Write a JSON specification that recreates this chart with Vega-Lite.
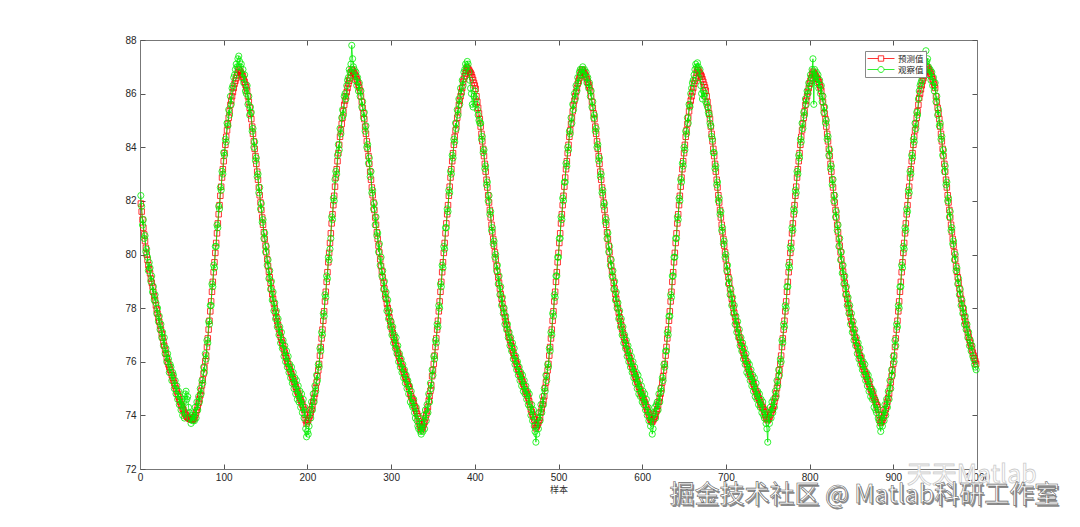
{
"$schema": "https://vega.github.io/schema/vega-lite/v6.json",
"width": 837,
"height": 429,
"autosize": {"type": "none"},
"padding": {"left": 140, "top": 40, "right": 103, "bottom": 58},
"background": "white",
"config": {"view": {"stroke": null}, "axis": {"grid": false}},
"datasets": {"d": [
{"x":1,"p":81.9,"o":82.2},{"x":2,"p":81.6,"o":81.8},{"x":3,"p":81.3,"o":81.1},{"x":4,"p":81.0,"o":81.3},{"x":5,"p":80.75,"o":80.6},{"x":6,"p":80.5,"o":80.7},{"x":7,"p":80.25,"o":80.1},{"x":8,"p":80.0,"o":80.2},{"x":9,"p":79.8,"o":79.9},{"x":10,"p":79.6,"o":79.4},
{"x":11,"p":79.45,"o":79.7},{"x":12,"p":79.3,"o":79.5},{"x":13,"p":79.1,"o":79.0},{"x":14,"p":78.95,"o":79.2},{"x":15,"p":78.8,"o":78.6},{"x":16,"p":78.6,"o":78.8},{"x":17,"p":78.45,"o":78.3},{"x":18,"p":78.3,"o":78.5},{"x":19,"p":78.1,"o":78.2},{"x":20,"p":77.95,"o":77.8},
{"x":21,"p":77.8,"o":78.0},{"x":22,"p":77.65,"o":77.5},{"x":23,"p":77.5,"o":77.7},{"x":24,"p":77.35,"o":77.2},{"x":25,"p":77.2,"o":77.4},{"x":26,"p":77.05,"o":76.9},{"x":27,"p":76.9,"o":77.1},{"x":28,"p":76.75,"o":76.6},{"x":29,"p":76.6,"o":76.9},{"x":30,"p":76.45,"o":76.3},
{"x":31,"p":76.3,"o":76.5},{"x":32,"p":76.15,"o":76.0},{"x":33,"p":76.0,"o":76.3},{"x":34,"p":75.9,"o":76.1},{"x":35,"p":75.8,"o":75.6},{"x":36,"p":75.7,"o":75.9},{"x":37,"p":75.6,"o":75.8},{"x":38,"p":75.5,"o":75.3},{"x":39,"p":75.4,"o":75.6},{"x":40,"p":75.3,"o":75.5},
{"x":41,"p":75.2,"o":75.0},{"x":42,"p":75.1,"o":75.3},{"x":43,"p":75.0,"o":74.8},{"x":44,"p":74.9,"o":75.1},{"x":45,"p":74.8,"o":74.6},{"x":46,"p":74.7,"o":74.9},{"x":47,"p":74.6,"o":74.4},{"x":48,"p":74.5,"o":74.7},{"x":49,"p":74.4,"o":74.2},{"x":50,"p":74.35,"o":74.6},
{"x":51,"p":74.25,"o":74.0},{"x":52,"p":74.2,"o":74.5},{"x":53,"p":74.1,"o":73.9},{"x":54,"p":74.05,"o":74.8},{"x":55,"p":74.0,"o":74.9},{"x":56,"p":73.95,"o":74.6},{"x":57,"p":73.92,"o":74.7},{"x":58,"p":73.9,"o":74.3},{"x":59,"p":73.88,"o":74.1},{"x":60,"p":73.86,"o":73.9},
{"x":61,"p":73.85,"o":73.7},{"x":62,"p":73.85,"o":74.0},{"x":63,"p":73.84,"o":73.8},{"x":64,"p":73.87,"o":74.1},{"x":65,"p":73.93,"o":73.8},{"x":66,"p":74.01,"o":74.3},{"x":67,"p":74.1,"o":73.9},{"x":68,"p":74.2,"o":74.5},{"x":69,"p":74.33,"o":74.2},{"x":70,"p":74.46,"o":74.7},
{"x":71,"p":74.61,"o":74.5},{"x":72,"p":74.75,"o":75.0},{"x":73,"p":74.91,"o":74.8},{"x":74,"p":75.12,"o":75.3},{"x":75,"p":75.33,"o":75.2},{"x":76,"p":75.56,"o":75.8},{"x":77,"p":75.78,"o":75.6},{"x":78,"p":76.02,"o":76.3},{"x":79,"p":76.23,"o":76.1},{"x":80,"p":76.55,"o":76.8},
{"x":81,"p":76.87,"o":76.7},{"x":82,"p":77.2,"o":77.5},{"x":83,"p":77.53,"o":77.4},{"x":84,"p":77.88,"o":78.1},{"x":85,"p":78.25,"o":78.1},{"x":86,"p":78.61,"o":78.9},{"x":87,"p":78.98,"o":78.8},{"x":88,"p":79.34,"o":79.6},{"x":89,"p":79.71,"o":79.5},{"x":90,"p":80.06,"o":80.3},
{"x":91,"p":80.43,"o":80.3},{"x":92,"p":80.79,"o":81.1},{"x":93,"p":81.16,"o":81.0},{"x":94,"p":81.5,"o":81.8},{"x":95,"p":81.84,"o":81.7},{"x":96,"p":82.19,"o":82.5},{"x":97,"p":82.53,"o":82.4},{"x":98,"p":82.87,"o":83.1},{"x":99,"p":83.18,"o":83.0},{"x":100,"p":83.48,"o":83.8},
{"x":101,"p":83.78,"o":83.7},{"x":102,"p":84.09,"o":84.3},{"x":103,"p":84.39,"o":84.2},{"x":104,"p":84.63,"o":84.9},{"x":105,"p":84.87,"o":84.8},{"x":106,"p":85.1,"o":85.4},{"x":107,"p":85.34,"o":85.2},{"x":108,"p":85.58,"o":85.9},{"x":109,"p":85.74,"o":85.6},{"x":110,"p":85.9,"o":86.2},
{"x":111,"p":86.06,"o":86.3},{"x":112,"p":86.21,"o":86.6},{"x":113,"p":86.37,"o":86.7},{"x":114,"p":86.48,"o":86.9},{"x":115,"p":86.58,"o":87.1},{"x":116,"p":86.69,"o":87.0},{"x":117,"p":86.79,"o":87.3},{"x":118,"p":86.9,"o":87.4},{"x":119,"p":86.86,"o":87.2},{"x":120,"p":86.81,"o":87.0},
{"x":121,"p":86.75,"o":87.1},{"x":122,"p":86.7,"o":86.6},{"x":123,"p":86.64,"o":86.9},{"x":124,"p":86.54,"o":86.4},{"x":125,"p":86.44,"o":86.7},{"x":126,"p":86.33,"o":86.1},{"x":127,"p":86.23,"o":86.0},{"x":128,"p":86.11,"o":86.3},{"x":129,"p":85.9,"o":85.6},{"x":130,"p":85.69,"o":85.9},
{"x":131,"p":85.47,"o":85.2},{"x":132,"p":85.26,"o":85.5},{"x":133,"p":85.05,"o":85.3},{"x":134,"p":84.77,"o":84.6},{"x":135,"p":84.5,"o":84.7},{"x":136,"p":84.22,"o":84.0},{"x":137,"p":83.94,"o":84.2},{"x":138,"p":83.67,"o":83.5},{"x":139,"p":83.38,"o":83.6},{"x":140,"p":83.09,"o":82.9},
{"x":141,"p":82.79,"o":83.0},{"x":142,"p":82.5,"o":82.3},{"x":143,"p":82.21,"o":82.5},{"x":144,"p":81.94,"o":81.7},{"x":145,"p":81.66,"o":81.9},{"x":146,"p":81.38,"o":81.2},{"x":147,"p":81.11,"o":81.3},{"x":148,"p":80.83,"o":80.6},{"x":149,"p":80.58,"o":80.8},{"x":150,"p":80.33,"o":80.1},
{"x":151,"p":80.08,"o":80.3},{"x":152,"p":79.82,"o":79.6},{"x":153,"p":79.57,"o":79.8},{"x":154,"p":79.36,"o":79.1},{"x":155,"p":79.15,"o":79.4},{"x":156,"p":78.94,"o":78.7},{"x":157,"p":78.73,"o":79.0},{"x":158,"p":78.52,"o":78.3},{"x":159,"p":78.35,"o":78.6},{"x":160,"p":78.17,"o":77.9},
{"x":161,"p":78.0,"o":78.2},{"x":162,"p":77.83,"o":77.6},{"x":163,"p":77.66,"o":77.9},{"x":164,"p":77.51,"o":77.3},{"x":165,"p":77.37,"o":77.6},{"x":166,"p":77.22,"o":77.0},{"x":167,"p":77.08,"o":77.3},{"x":168,"p":76.93,"o":76.7},{"x":169,"p":76.82,"o":77.1},{"x":170,"p":76.7,"o":76.5},
{"x":171,"p":76.58,"o":76.8},{"x":172,"p":76.46,"o":76.2},{"x":173,"p":76.34,"o":76.6},{"x":174,"p":76.23,"o":76.0},{"x":175,"p":76.13,"o":76.4},{"x":176,"p":76.02,"o":75.8},{"x":177,"p":75.92,"o":76.2},{"x":178,"p":75.81,"o":75.6},{"x":179,"p":75.72,"o":75.9},{"x":180,"p":75.63,"o":75.4},
{"x":181,"p":75.53,"o":75.8},{"x":182,"p":75.44,"o":75.2},{"x":183,"p":75.35,"o":75.6},{"x":184,"p":75.26,"o":75.0},{"x":185,"p":75.17,"o":75.4},{"x":186,"p":75.07,"o":74.8},{"x":187,"p":74.98,"o":75.3},{"x":188,"p":74.89,"o":74.6},{"x":189,"p":74.81,"o":75.1},{"x":190,"p":74.73,"o":74.5},
{"x":191,"p":74.65,"o":74.9},{"x":192,"p":74.57,"o":74.3},{"x":193,"p":74.49,"o":74.8},{"x":194,"p":74.4,"o":74.1},{"x":195,"p":74.31,"o":74.6},{"x":196,"p":74.21,"o":73.9},{"x":197,"p":74.03,"o":74.3},{"x":198,"p":73.82,"o":73.5},{"x":199,"p":73.7,"o":73.2},{"x":200,"p":73.77,"o":73.4},
{"x":201,"p":73.83,"o":73.3},{"x":202,"p":73.91,"o":73.6},{"x":203,"p":74.0,"o":74.2},{"x":204,"p":74.1,"o":73.9},{"x":205,"p":74.23,"o":74.5},{"x":206,"p":74.36,"o":74.2},{"x":207,"p":74.51,"o":74.8},{"x":208,"p":74.65,"o":74.5},{"x":209,"p":74.81,"o":75.1},{"x":210,"p":75.02,"o":74.9},
{"x":211,"p":75.23,"o":75.5},{"x":212,"p":75.46,"o":75.3},{"x":213,"p":75.68,"o":75.9},{"x":214,"p":75.92,"o":75.8},{"x":215,"p":76.23,"o":76.5},{"x":216,"p":76.55,"o":76.4},{"x":217,"p":76.87,"o":77.1},{"x":218,"p":77.2,"o":77.0},{"x":219,"p":77.53,"o":77.8},{"x":220,"p":77.88,"o":77.7},
{"x":221,"p":78.25,"o":78.5},{"x":222,"p":78.61,"o":78.4},{"x":223,"p":78.98,"o":79.2},{"x":224,"p":79.34,"o":79.1},{"x":225,"p":79.71,"o":79.9},{"x":226,"p":80.06,"o":79.8},{"x":227,"p":80.43,"o":80.2},{"x":228,"p":80.79,"o":80.6},{"x":229,"p":81.16,"o":81.4},{"x":230,"p":81.5,"o":81.3},
{"x":231,"p":81.84,"o":82.1},{"x":232,"p":82.19,"o":82.0},{"x":233,"p":82.53,"o":82.8},{"x":234,"p":82.87,"o":83.1},{"x":235,"p":83.18,"o":83.0},{"x":236,"p":83.48,"o":83.7},{"x":237,"p":83.78,"o":84.1},{"x":238,"p":84.09,"o":83.9},{"x":239,"p":84.39,"o":84.7},{"x":240,"p":84.63,"o":84.5},
{"x":241,"p":84.87,"o":85.1},{"x":242,"p":85.1,"o":85.4},{"x":243,"p":85.34,"o":85.2},{"x":244,"p":85.58,"o":85.9},{"x":245,"p":85.74,"o":86.0},{"x":246,"p":85.9,"o":85.8},{"x":247,"p":86.06,"o":86.3},{"x":248,"p":86.21,"o":86.5},{"x":249,"p":86.37,"o":86.6},{"x":250,"p":86.48,"o":86.9},
{"x":251,"p":86.58,"o":86.8},{"x":252,"p":86.79,"o":87.1},{"x":253,"p":86.9,"o":87.8},{"x":254,"p":86.86,"o":87.3},{"x":255,"p":86.81,"o":87.0},{"x":256,"p":86.75,"o":86.9},{"x":257,"p":86.7,"o":86.5},{"x":258,"p":86.64,"o":86.8},{"x":259,"p":86.54,"o":86.3},{"x":260,"p":86.44,"o":86.6},
{"x":261,"p":86.33,"o":86.1},{"x":262,"p":86.23,"o":86.4},{"x":263,"p":86.11,"o":85.9},{"x":264,"p":85.9,"o":86.1},{"x":265,"p":85.69,"o":85.5},{"x":266,"p":85.47,"o":85.7},{"x":267,"p":85.26,"o":85.1},{"x":268,"p":85.05,"o":85.3},{"x":269,"p":84.77,"o":84.6},{"x":270,"p":84.5,"o":84.8},
{"x":271,"p":84.22,"o":84.0},{"x":272,"p":83.94,"o":84.1},{"x":273,"p":83.67,"o":83.4},{"x":274,"p":83.38,"o":83.6},{"x":275,"p":83.09,"o":82.9},{"x":276,"p":82.79,"o":83.1},{"x":277,"p":82.5,"o":82.3},{"x":278,"p":82.21,"o":82.4},{"x":279,"p":81.94,"o":81.7},{"x":280,"p":81.66,"o":81.9},
{"x":281,"p":81.38,"o":81.1},{"x":282,"p":81.11,"o":81.4},{"x":283,"p":80.83,"o":80.7},{"x":284,"p":80.58,"o":80.8},{"x":285,"p":80.33,"o":80.1},{"x":286,"p":80.08,"o":80.4},{"x":287,"p":79.82,"o":79.6},{"x":288,"p":79.57,"o":79.9},{"x":289,"p":79.36,"o":79.2},{"x":290,"p":79.15,"o":79.4},
{"x":291,"p":78.94,"o":78.7},{"x":292,"p":78.73,"o":79.0},{"x":293,"p":78.52,"o":78.4},{"x":294,"p":78.35,"o":78.6},{"x":295,"p":78.17,"o":77.9},{"x":296,"p":78.0,"o":78.3},{"x":297,"p":77.83,"o":77.6},{"x":298,"p":77.66,"o":77.9},{"x":299,"p":77.51,"o":77.3},{"x":300,"p":77.37,"o":77.5},
{"x":301,"p":77.22,"o":77.0},{"x":302,"p":77.08,"o":77.3},{"x":303,"p":76.93,"o":76.7},{"x":304,"p":76.82,"o":77.0},{"x":305,"p":76.7,"o":76.5},{"x":306,"p":76.58,"o":76.9},{"x":307,"p":76.46,"o":76.3},{"x":308,"p":76.34,"o":76.6},{"x":309,"p":76.23,"o":76.0},{"x":310,"p":76.13,"o":76.3},
{"x":311,"p":76.02,"o":75.8},{"x":312,"p":75.92,"o":76.1},{"x":313,"p":75.81,"o":75.6},{"x":314,"p":75.72,"o":75.9},{"x":315,"p":75.63,"o":75.4},{"x":316,"p":75.53,"o":75.7},{"x":317,"p":75.44,"o":75.2},{"x":318,"p":75.35,"o":75.5},{"x":319,"p":75.26,"o":75.0},{"x":320,"p":75.17,"o":75.3},
{"x":321,"p":75.07,"o":74.8},{"x":322,"p":74.98,"o":75.1},{"x":323,"p":74.79,"o":74.5},{"x":324,"p":74.71,"o":74.9},{"x":325,"p":74.63,"o":74.4},{"x":326,"p":74.55,"o":74.3},{"x":327,"p":74.47,"o":74.6},{"x":328,"p":74.34,"o":74.1},{"x":329,"p":74.25,"o":73.9},{"x":330,"p":74.16,"o":74.3},
{"x":331,"p":74.06,"o":73.8},{"x":332,"p":73.97,"o":73.6},{"x":333,"p":73.78,"o":73.5},{"x":334,"p":73.67,"o":73.9},{"x":335,"p":73.57,"o":73.4},{"x":336,"p":73.45,"o":73.3},{"x":337,"p":73.52,"o":73.7},{"x":338,"p":73.58,"o":73.4},{"x":339,"p":73.66,"o":74.0},{"x":340,"p":73.75,"o":73.5},
{"x":341,"p":73.9,"o":74.2},{"x":342,"p":74.03,"o":73.8},{"x":343,"p":74.16,"o":74.4},{"x":344,"p":74.31,"o":74.1},{"x":345,"p":74.55,"o":74.8},{"x":346,"p":74.71,"o":74.5},{"x":347,"p":74.92,"o":75.2},{"x":348,"p":75.13,"o":75.0},{"x":349,"p":75.46,"o":75.7},{"x":350,"p":75.68,"o":75.5},
{"x":351,"p":75.92,"o":76.2},{"x":352,"p":76.23,"o":76.1},{"x":353,"p":76.55,"o":76.8},{"x":354,"p":76.87,"o":76.7},{"x":355,"p":77.2,"o":77.4},{"x":356,"p":77.53,"o":77.3},{"x":357,"p":77.88,"o":78.1},{"x":358,"p":78.25,"o":78.0},{"x":359,"p":78.61,"o":78.9},{"x":360,"p":78.98,"o":78.8},
{"x":361,"p":79.34,"o":79.6},{"x":362,"p":79.71,"o":79.5},{"x":363,"p":80.06,"o":80.3},{"x":364,"p":80.43,"o":80.2},{"x":365,"p":80.79,"o":81.0},{"x":366,"p":81.16,"o":81.0},{"x":367,"p":81.5,"o":81.7},{"x":368,"p":81.84,"o":81.6},{"x":369,"p":82.19,"o":82.4},{"x":370,"p":82.53,"o":82.3},
{"x":371,"p":82.87,"o":83.1},{"x":372,"p":83.18,"o":83.0},{"x":373,"p":83.48,"o":83.7},{"x":374,"p":83.78,"o":83.6},{"x":375,"p":84.09,"o":84.3},{"x":376,"p":84.39,"o":84.2},{"x":377,"p":84.63,"o":84.9},{"x":378,"p":84.87,"o":84.7},{"x":379,"p":85.1,"o":85.4},{"x":380,"p":85.34,"o":85.2},
{"x":381,"p":85.58,"o":85.8},{"x":382,"p":85.74,"o":85.6},{"x":383,"p":85.9,"o":86.2},{"x":384,"p":86.06,"o":86.0},{"x":385,"p":86.21,"o":86.5},{"x":386,"p":86.44,"o":86.3},{"x":387,"p":86.55,"o":86.8},{"x":388,"p":86.65,"o":86.9},{"x":389,"p":86.76,"o":87.1},{"x":390,"p":86.86,"o":87.0},
{"x":391,"p":86.97,"o":87.2},{"x":392,"p":86.93,"o":87.1},{"x":393,"p":86.88,"o":86.8},{"x":394,"p":86.82,"o":86.5},{"x":395,"p":86.77,"o":86.2},{"x":396,"p":86.71,"o":86.0},{"x":397,"p":86.61,"o":85.6},{"x":398,"p":86.51,"o":85.5},{"x":399,"p":86.4,"o":85.9},{"x":400,"p":86.3,"o":86.1},
{"x":401,"p":86.18,"o":85.8},{"x":402,"p":85.9,"o":85.6},{"x":403,"p":85.69,"o":85.4},{"x":404,"p":85.47,"o":85.2},{"x":405,"p":85.26,"o":85.0},{"x":406,"p":85.05,"o":84.9},{"x":407,"p":84.77,"o":84.9},{"x":408,"p":84.5,"o":84.3},{"x":409,"p":84.22,"o":84.4},{"x":410,"p":83.94,"o":83.8},
{"x":411,"p":83.67,"o":83.9},{"x":412,"p":83.38,"o":83.2},{"x":413,"p":83.09,"o":83.3},{"x":414,"p":82.79,"o":82.6},{"x":415,"p":82.5,"o":82.7},{"x":416,"p":82.21,"o":82.0},{"x":417,"p":81.94,"o":82.2},{"x":418,"p":81.66,"o":81.5},{"x":419,"p":81.38,"o":81.6},{"x":420,"p":81.11,"o":80.9},
{"x":421,"p":80.83,"o":81.0},{"x":422,"p":80.58,"o":80.4},{"x":423,"p":80.33,"o":80.5},{"x":424,"p":80.08,"o":79.9},{"x":425,"p":79.82,"o":80.0},{"x":426,"p":79.57,"o":79.4},{"x":427,"p":79.36,"o":79.6},{"x":428,"p":79.15,"o":78.9},{"x":429,"p":78.94,"o":79.2},{"x":430,"p":78.73,"o":78.5},
{"x":431,"p":78.52,"o":78.8},{"x":432,"p":78.35,"o":78.1},{"x":433,"p":78.17,"o":78.4},{"x":434,"p":78.0,"o":77.8},{"x":435,"p":77.83,"o":78.0},{"x":436,"p":77.66,"o":77.4},{"x":437,"p":77.51,"o":77.7},{"x":438,"p":77.37,"o":77.2},{"x":439,"p":77.22,"o":77.4},{"x":440,"p":77.08,"o":76.9},
{"x":441,"p":76.93,"o":77.1},{"x":442,"p":76.82,"o":76.6},{"x":443,"p":76.7,"o":76.9},{"x":444,"p":76.58,"o":76.4},{"x":445,"p":76.46,"o":76.7},{"x":446,"p":76.34,"o":76.1},{"x":447,"p":76.23,"o":76.5},{"x":448,"p":76.13,"o":75.9},{"x":449,"p":76.02,"o":76.2},{"x":450,"p":75.92,"o":75.7},
{"x":451,"p":75.81,"o":76.0},{"x":452,"p":75.72,"o":75.5},{"x":453,"p":75.63,"o":75.8},{"x":454,"p":75.53,"o":75.3},{"x":455,"p":75.44,"o":75.6},{"x":456,"p":75.35,"o":75.1},{"x":457,"p":75.26,"o":75.5},{"x":458,"p":75.17,"o":74.9},{"x":459,"p":75.07,"o":75.3},{"x":460,"p":74.98,"o":74.8},
{"x":461,"p":74.89,"o":75.1},{"x":462,"p":74.81,"o":74.6},{"x":463,"p":74.73,"o":74.9},{"x":464,"p":74.65,"o":74.4},{"x":465,"p":74.52,"o":74.8},{"x":466,"p":74.4,"o":74.3},{"x":467,"p":74.22,"o":74.0},{"x":468,"p":74.13,"o":74.4},{"x":469,"p":74.03,"o":73.8},{"x":470,"p":73.94,"o":74.2},
{"x":471,"p":73.85,"o":73.6},{"x":472,"p":73.64,"o":73.4},{"x":473,"p":73.52,"o":73.0},{"x":474,"p":73.59,"o":73.3},{"x":475,"p":73.65,"o":73.9},{"x":476,"p":73.73,"o":73.5},{"x":477,"p":73.82,"o":74.1},{"x":478,"p":73.92,"o":73.8},{"x":479,"p":74.13,"o":74.4},{"x":480,"p":74.26,"o":74.1},
{"x":481,"p":74.41,"o":74.7},{"x":482,"p":74.55,"o":74.4},{"x":483,"p":74.71,"o":75.0},{"x":484,"p":75.02,"o":74.9},{"x":485,"p":75.23,"o":75.5},{"x":486,"p":75.46,"o":75.3},{"x":487,"p":75.68,"o":75.9},{"x":488,"p":75.92,"o":75.8},{"x":489,"p":76.23,"o":76.5},{"x":490,"p":76.55,"o":76.4},
{"x":491,"p":76.87,"o":77.1},{"x":492,"p":77.2,"o":77.0},{"x":493,"p":77.53,"o":77.8},{"x":494,"p":77.88,"o":77.7},{"x":495,"p":78.25,"o":78.5},{"x":496,"p":78.61,"o":78.4},{"x":497,"p":78.98,"o":79.2},{"x":498,"p":79.34,"o":79.2},{"x":499,"p":79.71,"o":79.9},{"x":500,"p":80.06,"o":79.9},
{"x":501,"p":80.43,"o":80.6},{"x":502,"p":80.79,"o":80.6},{"x":503,"p":81.16,"o":81.4},{"x":504,"p":81.5,"o":81.3},{"x":505,"p":81.84,"o":82.1},{"x":506,"p":82.19,"o":82.0},{"x":507,"p":82.53,"o":82.7},{"x":508,"p":82.87,"o":82.7},{"x":509,"p":83.18,"o":83.4},{"x":510,"p":83.48,"o":83.3},
{"x":511,"p":83.78,"o":84.0},{"x":512,"p":84.09,"o":83.9},{"x":513,"p":84.39,"o":84.6},{"x":514,"p":84.63,"o":84.5},{"x":515,"p":84.87,"o":85.1},{"x":516,"p":85.1,"o":84.9},{"x":517,"p":85.34,"o":85.6},{"x":518,"p":85.58,"o":85.4},{"x":519,"p":85.74,"o":86.0},{"x":520,"p":85.9,"o":85.8},
{"x":521,"p":86.06,"o":86.3},{"x":522,"p":86.21,"o":86.1},{"x":523,"p":86.37,"o":86.6},{"x":524,"p":86.48,"o":86.4},{"x":525,"p":86.58,"o":86.8},{"x":526,"p":86.69,"o":86.9},{"x":527,"p":86.79,"o":86.7},{"x":528,"p":86.9,"o":86.9},{"x":529,"p":86.86,"o":87.0},{"x":530,"p":86.81,"o":86.7},
{"x":531,"p":86.75,"o":86.9},{"x":532,"p":86.7,"o":86.6},{"x":533,"p":86.64,"o":86.8},{"x":534,"p":86.54,"o":86.4},{"x":535,"p":86.44,"o":86.6},{"x":536,"p":86.33,"o":86.2},{"x":537,"p":86.23,"o":86.4},{"x":538,"p":86.11,"o":85.9},{"x":539,"p":85.9,"o":86.1},{"x":540,"p":85.69,"o":85.5},
{"x":541,"p":85.47,"o":85.7},{"x":542,"p":85.26,"o":85.1},{"x":543,"p":85.05,"o":85.2},{"x":544,"p":84.77,"o":84.6},{"x":545,"p":84.5,"o":84.7},{"x":546,"p":84.22,"o":84.0},{"x":547,"p":83.94,"o":84.1},{"x":548,"p":83.67,"o":83.5},{"x":549,"p":83.38,"o":83.6},{"x":550,"p":83.09,"o":82.9},
{"x":551,"p":82.79,"o":83.0},{"x":552,"p":82.5,"o":82.3},{"x":553,"p":82.21,"o":82.4},{"x":554,"p":81.94,"o":81.8},{"x":555,"p":81.66,"o":81.9},{"x":556,"p":81.38,"o":81.2},{"x":557,"p":81.11,"o":81.3},{"x":558,"p":80.83,"o":80.6},{"x":559,"p":80.58,"o":80.8},{"x":560,"p":80.33,"o":80.1},
{"x":561,"p":80.08,"o":80.3},{"x":562,"p":79.82,"o":79.6},{"x":563,"p":79.57,"o":79.8},{"x":564,"p":79.36,"o":79.2},{"x":565,"p":79.15,"o":79.4},{"x":566,"p":78.94,"o":78.7},{"x":567,"p":78.73,"o":79.0},{"x":568,"p":78.52,"o":78.3},{"x":569,"p":78.35,"o":78.6},{"x":570,"p":78.17,"o":78.0},
{"x":571,"p":78.0,"o":78.2},{"x":572,"p":77.83,"o":77.6},{"x":573,"p":77.66,"o":77.9},{"x":574,"p":77.51,"o":77.3},{"x":575,"p":77.37,"o":77.6},{"x":576,"p":77.22,"o":77.0},{"x":577,"p":77.08,"o":77.3},{"x":578,"p":76.93,"o":76.7},{"x":579,"p":76.82,"o":77.0},{"x":580,"p":76.7,"o":76.5},
{"x":581,"p":76.58,"o":76.8},{"x":582,"p":76.46,"o":76.2},{"x":583,"p":76.34,"o":76.6},{"x":584,"p":76.23,"o":76.0},{"x":585,"p":76.13,"o":76.4},{"x":586,"p":76.02,"o":75.8},{"x":587,"p":75.92,"o":76.2},{"x":588,"p":75.81,"o":75.6},{"x":589,"p":75.72,"o":76.0},{"x":590,"p":75.63,"o":75.4},
{"x":591,"p":75.53,"o":75.8},{"x":592,"p":75.44,"o":75.2},{"x":593,"p":75.35,"o":75.6},{"x":594,"p":75.26,"o":75.0},{"x":595,"p":75.17,"o":75.5},{"x":596,"p":75.07,"o":74.8},{"x":597,"p":74.98,"o":75.3},{"x":598,"p":74.89,"o":74.7},{"x":599,"p":74.81,"o":75.1},{"x":600,"p":74.73,"o":74.5},
{"x":601,"p":74.65,"o":74.9},{"x":602,"p":74.57,"o":74.4},{"x":603,"p":74.49,"o":74.8},{"x":604,"p":74.4,"o":74.2},{"x":605,"p":74.31,"o":74.6},{"x":606,"p":74.21,"o":74.0},{"x":607,"p":74.12,"o":74.3},{"x":608,"p":74.03,"o":73.8},{"x":609,"p":73.92,"o":74.1},{"x":610,"p":73.84,"o":73.6},
{"x":611,"p":73.78,"o":73.9},{"x":612,"p":73.76,"o":73.3},{"x":613,"p":73.82,"o":73.5},{"x":614,"p":73.88,"o":74.1},{"x":615,"p":73.96,"o":74.3},{"x":616,"p":74.05,"o":73.9},{"x":617,"p":74.15,"o":74.4},{"x":618,"p":74.23,"o":74.5},{"x":619,"p":74.36,"o":74.2},{"x":620,"p":74.51,"o":74.8},
{"x":621,"p":74.65,"o":74.5},{"x":622,"p":74.81,"o":75.0},{"x":623,"p":75.02,"o":74.9},{"x":624,"p":75.23,"o":75.4},{"x":625,"p":75.46,"o":75.3},{"x":626,"p":75.68,"o":75.9},{"x":627,"p":75.92,"o":75.8},{"x":628,"p":76.23,"o":76.4},{"x":629,"p":76.55,"o":76.4},{"x":630,"p":76.87,"o":77.1},
{"x":631,"p":77.2,"o":77.0},{"x":632,"p":77.53,"o":77.7},{"x":633,"p":77.88,"o":77.7},{"x":634,"p":78.25,"o":78.5},{"x":635,"p":78.61,"o":78.4},{"x":636,"p":78.98,"o":79.2},{"x":637,"p":79.34,"o":79.2},{"x":638,"p":79.71,"o":79.9},{"x":639,"p":80.06,"o":79.9},{"x":640,"p":80.43,"o":80.6},
{"x":641,"p":80.79,"o":80.6},{"x":642,"p":81.16,"o":81.4},{"x":643,"p":81.5,"o":81.3},{"x":644,"p":81.84,"o":82.1},{"x":645,"p":82.19,"o":82.0},{"x":646,"p":82.53,"o":82.8},{"x":647,"p":82.87,"o":82.7},{"x":648,"p":83.18,"o":83.4},{"x":649,"p":83.48,"o":83.3},{"x":650,"p":83.78,"o":84.0},
{"x":651,"p":84.09,"o":83.9},{"x":652,"p":84.39,"o":84.6},{"x":653,"p":84.63,"o":84.5},{"x":654,"p":84.87,"o":85.1},{"x":655,"p":85.1,"o":84.9},{"x":656,"p":85.34,"o":85.6},{"x":657,"p":85.58,"o":85.5},{"x":658,"p":85.74,"o":86.0},{"x":659,"p":85.9,"o":86.2},{"x":660,"p":86.06,"o":86.4},
{"x":661,"p":86.21,"o":86.5},{"x":662,"p":86.37,"o":86.7},{"x":663,"p":86.48,"o":86.9},{"x":664,"p":86.58,"o":87.1},{"x":665,"p":86.79,"o":87.0},{"x":666,"p":86.88,"o":87.15},{"x":667,"p":86.86,"o":87.0},{"x":668,"p":86.81,"o":86.6},{"x":669,"p":86.75,"o":86.9},{"x":670,"p":86.7,"o":86.3},
{"x":671,"p":86.64,"o":86.0},{"x":672,"p":86.54,"o":85.8},{"x":673,"p":86.44,"o":86.1},{"x":674,"p":86.33,"o":85.9},{"x":675,"p":86.23,"o":86.0},{"x":676,"p":86.11,"o":85.7},{"x":677,"p":85.9,"o":85.6},{"x":678,"p":85.69,"o":85.5},{"x":679,"p":85.47,"o":85.3},{"x":680,"p":85.26,"o":85.2},
{"x":681,"p":85.05,"o":84.9},{"x":682,"p":84.77,"o":84.8},{"x":683,"p":84.5,"o":84.4},{"x":684,"p":84.22,"o":84.3},{"x":685,"p":83.94,"o":83.8},{"x":686,"p":83.67,"o":83.8},{"x":687,"p":83.38,"o":83.2},{"x":688,"p":83.09,"o":83.3},{"x":689,"p":82.79,"o":82.6},{"x":690,"p":82.5,"o":82.7},
{"x":691,"p":82.21,"o":82.0},{"x":692,"p":81.94,"o":82.1},{"x":693,"p":81.66,"o":81.5},{"x":694,"p":81.38,"o":81.6},{"x":695,"p":81.11,"o":80.9},{"x":696,"p":80.83,"o":81.0},{"x":697,"p":80.58,"o":80.4},{"x":698,"p":80.33,"o":80.5},{"x":699,"p":80.08,"o":79.9},{"x":700,"p":79.82,"o":80.0},
{"x":701,"p":79.57,"o":79.4},{"x":702,"p":79.36,"o":79.6},{"x":703,"p":79.15,"o":78.9},{"x":704,"p":78.94,"o":79.1},{"x":705,"p":78.73,"o":78.5},{"x":706,"p":78.52,"o":78.7},{"x":707,"p":78.35,"o":78.1},{"x":708,"p":78.17,"o":78.4},{"x":709,"p":78.0,"o":77.8},{"x":710,"p":77.83,"o":78.1},
{"x":711,"p":77.66,"o":77.4},{"x":712,"p":77.51,"o":77.7},{"x":713,"p":77.37,"o":77.1},{"x":714,"p":77.22,"o":77.5},{"x":715,"p":77.08,"o":76.9},{"x":716,"p":76.93,"o":77.2},{"x":717,"p":76.82,"o":76.6},{"x":718,"p":76.7,"o":76.9},{"x":719,"p":76.58,"o":76.4},{"x":720,"p":76.46,"o":76.7},
{"x":721,"p":76.34,"o":76.1},{"x":722,"p":76.23,"o":76.5},{"x":723,"p":76.13,"o":75.9},{"x":724,"p":76.02,"o":76.3},{"x":725,"p":75.92,"o":75.6},{"x":726,"p":75.81,"o":76.0},{"x":727,"p":75.72,"o":75.5},{"x":728,"p":75.63,"o":75.9},{"x":729,"p":75.53,"o":75.3},{"x":730,"p":75.44,"o":75.7},
{"x":731,"p":75.35,"o":75.1},{"x":732,"p":75.26,"o":75.5},{"x":733,"p":75.17,"o":74.9},{"x":734,"p":75.07,"o":75.4},{"x":735,"p":74.98,"o":74.7},{"x":736,"p":74.89,"o":75.2},{"x":737,"p":74.81,"o":74.6},{"x":738,"p":74.73,"o":74.9},{"x":739,"p":74.65,"o":74.4},{"x":740,"p":74.57,"o":74.8},
{"x":741,"p":74.49,"o":74.3},{"x":742,"p":74.4,"o":74.6},{"x":743,"p":74.31,"o":74.1},{"x":744,"p":74.31,"o":74.5},{"x":745,"p":74.22,"o":74.0},{"x":746,"p":74.13,"o":73.9},{"x":747,"p":74.02,"o":74.2},{"x":748,"p":73.92,"o":73.7},{"x":749,"p":73.86,"o":73.5},{"x":750,"p":73.82,"o":73.0},
{"x":751,"p":73.87,"o":74.1},{"x":752,"p":73.93,"o":73.7},{"x":753,"p":74.01,"o":74.3},{"x":754,"p":74.1,"o":73.9},{"x":755,"p":74.2,"o":74.5},{"x":756,"p":74.23,"o":74.1},{"x":757,"p":74.36,"o":74.6},{"x":758,"p":74.51,"o":74.3},{"x":759,"p":74.65,"o":74.9},{"x":760,"p":74.81,"o":74.7},
{"x":761,"p":75.02,"o":75.3},{"x":762,"p":75.23,"o":75.1},{"x":763,"p":75.46,"o":75.7},{"x":764,"p":75.68,"o":75.5},{"x":765,"p":75.92,"o":76.1},{"x":766,"p":76.23,"o":76.0},{"x":767,"p":76.55,"o":76.8},{"x":768,"p":76.87,"o":76.7},{"x":769,"p":77.2,"o":77.4},{"x":770,"p":77.53,"o":77.3},
{"x":771,"p":77.88,"o":78.1},{"x":772,"p":78.25,"o":78.0},{"x":773,"p":78.61,"o":78.8},{"x":774,"p":78.98,"o":78.8},{"x":775,"p":79.34,"o":79.6},{"x":776,"p":79.71,"o":79.5},{"x":777,"p":80.06,"o":80.3},{"x":778,"p":80.43,"o":80.2},{"x":779,"p":80.79,"o":81.0},{"x":780,"p":81.16,"o":80.9},
{"x":781,"p":81.5,"o":81.7},{"x":782,"p":81.84,"o":81.6},{"x":783,"p":82.19,"o":82.4},{"x":784,"p":82.53,"o":82.3},{"x":785,"p":82.87,"o":83.1},{"x":786,"p":83.18,"o":83.0},{"x":787,"p":83.48,"o":83.7},{"x":788,"p":83.78,"o":83.6},{"x":789,"p":84.09,"o":84.3},{"x":790,"p":84.39,"o":84.2},
{"x":791,"p":84.63,"o":84.9},{"x":792,"p":84.87,"o":84.7},{"x":793,"p":85.1,"o":85.3},{"x":794,"p":85.34,"o":85.2},{"x":795,"p":85.58,"o":85.8},{"x":796,"p":85.74,"o":85.6},{"x":797,"p":85.9,"o":86.1},{"x":798,"p":86.06,"o":86.0},{"x":799,"p":86.21,"o":86.4},{"x":800,"p":86.37,"o":86.3},
{"x":801,"p":86.48,"o":86.7},{"x":802,"p":86.58,"o":86.6},{"x":803,"p":86.72,"o":86.9},{"x":804,"p":86.82,"o":87.3},{"x":805,"p":86.78,"o":85.6},{"x":806,"p":86.73,"o":86.9},{"x":807,"p":86.67,"o":86.5},{"x":808,"p":86.62,"o":86.8},{"x":809,"p":86.56,"o":86.4},{"x":810,"p":86.54,"o":86.7},
{"x":811,"p":86.44,"o":86.2},{"x":812,"p":86.33,"o":86.5},{"x":813,"p":86.23,"o":86.0},{"x":814,"p":86.11,"o":86.3},{"x":815,"p":85.9,"o":85.7},{"x":816,"p":85.69,"o":85.9},{"x":817,"p":85.47,"o":85.3},{"x":818,"p":85.26,"o":85.5},{"x":819,"p":85.05,"o":84.9},{"x":820,"p":84.77,"o":85.0},
{"x":821,"p":84.5,"o":84.3},{"x":822,"p":84.22,"o":84.4},{"x":823,"p":83.94,"o":83.7},{"x":824,"p":83.67,"o":83.9},{"x":825,"p":83.38,"o":83.2},{"x":826,"p":83.09,"o":83.3},{"x":827,"p":82.79,"o":82.6},{"x":828,"p":82.5,"o":82.8},{"x":829,"p":82.21,"o":82.0},{"x":830,"p":81.94,"o":82.2},
{"x":831,"p":81.66,"o":81.4},{"x":832,"p":81.38,"o":81.6},{"x":833,"p":81.11,"o":80.9},{"x":834,"p":80.83,"o":81.1},{"x":835,"p":80.58,"o":80.3},{"x":836,"p":80.33,"o":80.6},{"x":837,"p":80.08,"o":79.8},{"x":838,"p":79.82,"o":80.1},{"x":839,"p":79.57,"o":79.3},{"x":840,"p":79.36,"o":79.6},
{"x":841,"p":79.15,"o":78.9},{"x":842,"p":78.94,"o":79.2},{"x":843,"p":78.73,"o":78.5},{"x":844,"p":78.52,"o":78.8},{"x":845,"p":78.35,"o":78.1},{"x":846,"p":78.17,"o":78.4},{"x":847,"p":78.0,"o":77.8},{"x":848,"p":77.83,"o":78.1},{"x":849,"p":77.66,"o":77.4},{"x":850,"p":77.51,"o":77.8},
{"x":851,"p":77.37,"o":77.1},{"x":852,"p":77.22,"o":77.5},{"x":853,"p":77.08,"o":76.8},{"x":854,"p":76.93,"o":77.2},{"x":855,"p":76.82,"o":76.6},{"x":856,"p":76.7,"o":76.9},{"x":857,"p":76.58,"o":76.3},{"x":858,"p":76.46,"o":76.7},{"x":859,"p":76.34,"o":76.1},{"x":860,"p":76.23,"o":76.5},
{"x":861,"p":76.13,"o":75.9},{"x":862,"p":76.02,"o":76.2},{"x":863,"p":75.92,"o":75.7},{"x":864,"p":75.81,"o":76.0},{"x":865,"p":75.72,"o":75.5},{"x":866,"p":75.63,"o":75.9},{"x":867,"p":75.53,"o":75.3},{"x":868,"p":75.44,"o":75.6},{"x":869,"p":75.35,"o":75.1},{"x":870,"p":75.26,"o":75.5},
{"x":871,"p":75.17,"o":74.9},{"x":872,"p":75.07,"o":75.3},{"x":873,"p":74.98,"o":74.7},{"x":874,"p":74.89,"o":75.0},{"x":875,"p":74.81,"o":74.6},{"x":876,"p":74.73,"o":74.9},{"x":877,"p":74.65,"o":74.3},{"x":878,"p":74.57,"o":74.6},{"x":879,"p":74.49,"o":74.2},{"x":880,"p":74.4,"o":74.1},
{"x":881,"p":74.31,"o":74.4},{"x":882,"p":74.21,"o":73.9},{"x":883,"p":74.03,"o":73.8},{"x":884,"p":73.82,"o":73.6},{"x":885,"p":73.72,"o":73.4},{"x":886,"p":73.77,"o":74.0},{"x":887,"p":73.83,"o":73.6},{"x":888,"p":73.91,"o":74.2},{"x":889,"p":74.0,"o":73.8},{"x":890,"p":74.1,"o":74.4},
{"x":891,"p":74.23,"o":74.0},{"x":892,"p":74.36,"o":74.6},{"x":893,"p":74.51,"o":74.3},{"x":894,"p":74.65,"o":74.9},{"x":895,"p":74.81,"o":74.6},{"x":896,"p":75.02,"o":75.3},{"x":897,"p":75.23,"o":75.0},{"x":898,"p":75.46,"o":75.7},{"x":899,"p":75.68,"o":75.5},{"x":900,"p":75.92,"o":76.2},
{"x":901,"p":76.23,"o":76.0},{"x":902,"p":76.55,"o":76.8},{"x":903,"p":76.87,"o":76.6},{"x":904,"p":77.2,"o":77.4},{"x":905,"p":77.53,"o":77.3},{"x":906,"p":77.88,"o":78.1},{"x":907,"p":78.25,"o":78.0},{"x":908,"p":78.61,"o":78.8},{"x":909,"p":78.98,"o":78.8},{"x":910,"p":79.34,"o":79.6},
{"x":911,"p":79.71,"o":79.5},{"x":912,"p":80.06,"o":80.3},{"x":913,"p":80.43,"o":80.2},{"x":914,"p":80.79,"o":81.0},{"x":915,"p":81.16,"o":80.9},{"x":916,"p":81.5,"o":81.7},{"x":917,"p":81.84,"o":81.6},{"x":918,"p":82.19,"o":82.4},{"x":919,"p":82.53,"o":82.3},{"x":920,"p":82.87,"o":83.1},
{"x":921,"p":83.18,"o":83.0},{"x":922,"p":83.48,"o":83.7},{"x":923,"p":83.78,"o":83.6},{"x":924,"p":84.09,"o":84.3},{"x":925,"p":84.39,"o":84.2},{"x":926,"p":84.63,"o":84.9},{"x":927,"p":84.87,"o":84.7},{"x":928,"p":85.1,"o":85.3},{"x":929,"p":85.34,"o":85.2},{"x":930,"p":85.58,"o":85.8},
{"x":931,"p":85.84,"o":86.1},{"x":932,"p":86.0,"o":86.3},{"x":933,"p":86.16,"o":86.4},{"x":934,"p":86.31,"o":86.5},{"x":935,"p":86.47,"o":86.8},{"x":936,"p":86.58,"o":86.9},{"x":937,"p":86.68,"o":87.1},{"x":938,"p":86.79,"o":87.2},{"x":939,"p":86.89,"o":87.6},{"x":940,"p":87.0,"o":87.2},
{"x":941,"p":86.96,"o":87.3},{"x":942,"p":86.91,"o":87.0},{"x":943,"p":86.85,"o":86.7},{"x":944,"p":86.8,"o":86.9},{"x":945,"p":86.74,"o":86.5},{"x":946,"p":86.64,"o":86.8},{"x":947,"p":86.54,"o":86.3},{"x":948,"p":86.43,"o":86.6},{"x":949,"p":86.33,"o":86.1},{"x":950,"p":86.21,"o":86.4},
{"x":951,"p":85.9,"o":85.7},{"x":952,"p":85.69,"o":85.9},{"x":953,"p":85.47,"o":85.2},{"x":954,"p":85.26,"o":85.4},{"x":955,"p":85.05,"o":84.8},{"x":956,"p":84.77,"o":84.9},{"x":957,"p":84.5,"o":84.3},{"x":958,"p":84.22,"o":84.4},{"x":959,"p":83.94,"o":83.7},{"x":960,"p":83.67,"o":83.9},
{"x":961,"p":83.38,"o":83.1},{"x":962,"p":83.09,"o":83.3},{"x":963,"p":82.79,"o":82.6},{"x":964,"p":82.5,"o":82.7},{"x":965,"p":82.21,"o":82.0},{"x":966,"p":81.94,"o":82.1},{"x":967,"p":81.66,"o":81.4},{"x":968,"p":81.38,"o":81.6},{"x":969,"p":81.11,"o":80.9},{"x":970,"p":80.83,"o":81.0},
{"x":971,"p":80.58,"o":80.4},{"x":972,"p":80.33,"o":80.5},{"x":973,"p":80.08,"o":79.8},{"x":974,"p":79.82,"o":80.0},{"x":975,"p":79.57,"o":79.4},{"x":976,"p":79.36,"o":79.5},{"x":977,"p":79.15,"o":78.9},{"x":978,"p":78.94,"o":79.1},{"x":979,"p":78.73,"o":78.5},{"x":980,"p":78.52,"o":78.7},
{"x":981,"p":78.35,"o":78.1},{"x":982,"p":78.17,"o":78.3},{"x":983,"p":78.0,"o":77.8},{"x":984,"p":77.83,"o":78.0},{"x":985,"p":77.66,"o":77.4},{"x":986,"p":77.51,"o":77.7},{"x":987,"p":77.37,"o":77.2},{"x":988,"p":77.22,"o":77.4},{"x":989,"p":77.08,"o":76.9},{"x":990,"p":76.93,"o":77.1},
{"x":991,"p":76.82,"o":76.6},{"x":992,"p":76.7,"o":76.8},{"x":993,"p":76.58,"o":76.4},{"x":994,"p":76.46,"o":76.6},{"x":995,"p":76.34,"o":76.2},{"x":996,"p":76.23,"o":76.1},{"x":997,"p":76.13,"o":75.9},{"x":998,"p":76.02,"o":75.8},{"x":999,"p":75.92,"o":75.7}
]},
"layer": [
{"data": {"name": "d"},
 "mark": {"type": "line", "color": "#ff0000", "strokeWidth": 0.8},
 "encoding": {
  "x": {"field": "x", "type": "quantitative", "scale": {"domain": [0, 1000], "nice": false},
        "axis": {"orient": "bottom", "values": [0,100,200,300,400,500,600,700,800,900,1000], "title": "样本",
                 "titleFont": "Noto Sans CJK SC", "titleFontSize": 9, "titleFontWeight": "normal", "titleColor": "#333333", "titlePadding": 3,
                 "labelFont": "Liberation Sans", "labelFontSize": 10, "labelColor": "#262626", "labelPadding": 8, "labelFlush": false, "labelOverlap": false,
                 "tickSize": -5, "tickColor": "#555555", "domainColor": "#777777", "grid": false}},
  "y": {"field": "p", "type": "quantitative", "scale": {"domain": [72, 88], "nice": false, "zero": false},
        "axis": {"orient": "left", "values": [72,74,76,78,80,82,84,86,88], "title": null,
                 "labelFont": "Liberation Sans", "labelFontSize": 10, "labelColor": "#262626", "labelPadding": 9, "labelOverlap": false,
                 "tickSize": -5, "tickColor": "#555555", "domainColor": "#777777", "grid": false}}}},
{"data": {"name": "d"},
 "mark": {"type": "point", "shape": "square", "filled": false, "color": "#ff0000", "size": 30, "strokeWidth": 0.8, "opacity": 1},
 "encoding": {
  "x": {"field": "x", "type": "quantitative", "axis": null},
  "y": {"field": "p", "type": "quantitative", "axis": null}}},
{"data": {"name": "d"},
 "mark": {"type": "line", "color": "#00ee00", "strokeWidth": 0.8},
 "encoding": {
  "x": {"field": "x", "type": "quantitative",
        "axis": {"orient": "top", "values": [0,100,200,300,400,500,600,700,800,900,1000], "labels": false, "title": null,
                 "tickSize": -5, "tickColor": "#555555", "domainColor": "#777777", "grid": false}},
  "y": {"field": "o", "type": "quantitative",
        "axis": {"orient": "right", "values": [72,74,76,78,80,82,84,86,88], "labels": false, "title": null,
                 "tickSize": -5, "tickColor": "#555555", "domainColor": "#777777", "grid": false}}}},
{"data": {"name": "d"},
 "mark": {"type": "point", "shape": "circle", "filled": false, "color": "#00ee00", "size": 38, "strokeWidth": 0.8, "opacity": 1},
 "encoding": {
  "x": {"field": "x", "type": "quantitative", "axis": null},
  "y": {"field": "o", "type": "quantitative", "axis": null}}},
{"data": {"values": [{"s": "预测值"}, {"s": "观察值"}]},
 "mark": {"type": "point", "filled": false, "opacity": 0, "strokeWidth": 0.8},
 "encoding": {
  "color": {"field": "s", "type": "nominal",
            "scale": {"domain": ["预测值", "观察值"], "range": ["#ff0000", "#00ee00"]},
            "legend": {"orient": "none", "legendX": 725, "legendY": 11, "title": null, "fillColor": "white", "strokeColor": "#888888",
                       "padding": 2, "symbolSize": 729, "symbolStrokeWidth": 0.8, "symbolOpacity": 1, "clipHeight": 11, "rowPadding": 0,
                       "labelFont": "Noto Sans CJK SC", "labelFontSize": 8.5, "labelColor": "#262626", "labelOffset": 3}},
  "shape": {"field": "s", "type": "nominal",
            "scale": {"domain": ["预测值", "观察值"], "range": ["M-1,0H-0.2M0.2,0H1M-0.2,-0.2H0.2V0.2H-0.2Z", "M-1,0H-0.22M0.22,0H1M-0.22,0A0.22,0.22,0,1,1,0.22,0A0.22,0.22,0,1,1,-0.22,0"]},
            "legend": {"orient": "none", "legendX": 725, "legendY": 11, "title": null, "fillColor": "white", "strokeColor": "#888888",
                       "padding": 2, "symbolSize": 729, "symbolStrokeWidth": 0.8, "symbolOpacity": 1, "clipHeight": 11, "rowPadding": 0,
                       "labelFont": "Noto Sans CJK SC", "labelFontSize": 8.5, "labelColor": "#262626", "labelOffset": 3}}}},
{"data": {"values": [{}]},
 "mark": {"type": "text", "text": "天天Matlab", "font": "Noto Sans CJK SC", "fontSize": 25, "align": "left", "baseline": "middle",
          "fill": "#ffffff", "stroke": "#cccccc", "strokeWidth": 0.8},
 "encoding": {"x": {"datum": 916, "type": "quantitative", "axis": null}, "y": {"datum": 71.78, "type": "quantitative", "axis": null}}},
{"data": {"values": [{}]},
 "mark": {"type": "text", "text": "掘金技术社区 @ Matlab科研工作室", "font": "Noto Sans CJK SC", "fontSize": 25, "align": "left", "baseline": "middle",
          "fill": "#8a8a8a", "dx": 1.5, "dy": 1.5},
 "encoding": {"x": {"datum": 632.5, "type": "quantitative", "axis": null}, "y": {"datum": 71.03, "type": "quantitative", "axis": null}}},
{"data": {"values": [{}]},
 "mark": {"type": "text", "text": "掘金技术社区 @ Matlab科研工作室", "font": "Noto Sans CJK SC", "fontSize": 25, "align": "left", "baseline": "middle",
          "fill": "#ffffff", "stroke": "#666666", "strokeWidth": 0.6},
 "encoding": {"x": {"datum": 632.5, "type": "quantitative", "axis": null}, "y": {"datum": 71.03, "type": "quantitative", "axis": null}}}
],
"resolve": {"axis": {"x": "independent", "y": "independent"}}
}
